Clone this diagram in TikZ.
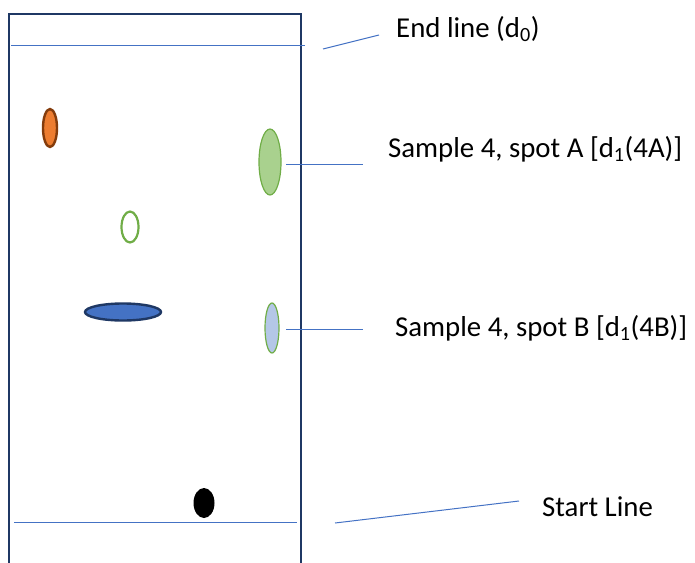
\documentclass[tikz,border=0pt]{standalone}
\usepackage{fontspec}
\setmainfont{Carlito}
\usetikzlibrary{shapes.geometric}
\definecolor{navy}{HTML}{1F3864}
\definecolor{lineblue}{HTML}{4472C4}
\definecolor{spotorange}{HTML}{ED7D31}
\definecolor{spotbrown}{HTML}{843C0C}
\definecolor{spotgreen}{HTML}{70AD47}
\definecolor{spotlightgreen}{HTML}{A9D18E}
\definecolor{spotlightblue}{HTML}{B4C7E7}
\definecolor{spotblue}{HTML}{4472C4}
\begin{document}
\begin{tikzpicture}[x=1pt,y=-1pt,
  spot/.style={ellipse, inner sep=0pt, outer sep=0pt},
  leader/.style={draw=lineblue, line width=1pt},
  lbl/.style={anchor=base west, inner sep=0pt, font=\fontsize{28.8}{34}\selectfont}]
\useasboundingbox (0,0) rectangle (695,562);
% plate
\draw[navy, line width=2.6pt] (9,575) -- (9,14) -- (301,14) -- (301,575);
% end and start lines
\coordinate (endL) at (11,45);
\coordinate (endR) at (305,45);
\coordinate (startL) at (14,522);
\coordinate (startR) at (297,522);
\draw[leader] (endL) -- (endR);
\draw[leader] (startL) -- (startR);
% spots
\node[spot, draw=spotbrown, fill=spotorange, line width=2.4pt, minimum width=14pt, minimum height=38pt] (orange) at (50,128) {};
\node[spot, draw=spotgreen, fill=spotlightgreen, line width=1.2pt, minimum width=22pt, minimum height=66pt] (spotA) at (270,162) {};
\node[spot, draw=spotgreen, line width=2.2pt, minimum width=17pt, minimum height=31pt] (greenopen) at (130,227) {};
\node[spot, draw=navy, fill=spotblue, line width=2.4pt, minimum width=76pt, minimum height=17pt] (blue) at (123,312) {};
\node[spot, draw=spotgreen, fill=spotlightblue, line width=1.2pt, minimum width=14pt, minimum height=50pt] (spotB) at (272,328) {};
\node[spot, fill=black, minimum width=21pt, minimum height=30pt] (dot) at (204,503) {};
% labels
\node[lbl] (lblEnd) at (396,37) {End line (d\textsubscript{0})};
\node[lbl] (lblA) at (388,157) {Sample 4, spot A [d\textsubscript{1}(4A)]};
\node[lbl] (lblB) at (395,336) {Sample 4, spot B [d\textsubscript{1}(4B)]};
\node[lbl] (lblStart) at (542,516) {Start Line};
% leaders
\coordinate (ldEnd1) at (323,49);
\coordinate (ldEnd2) at (379,35);
\coordinate (ldA1) at (286,164);
\coordinate (ldA2) at (363,164);
\coordinate (ldB1) at (286,329);
\coordinate (ldB2) at (363,329);
\coordinate (ldS1) at (335,523);
\coordinate (ldS2) at (519,501);
\draw[leader] (ldEnd1) -- (ldEnd2);
\draw[leader] (ldA1) -- (ldA2);
\draw[leader] (ldB1) -- (ldB2);
\draw[leader] (ldS1) -- (ldS2);
\end{tikzpicture}
\end{document}
